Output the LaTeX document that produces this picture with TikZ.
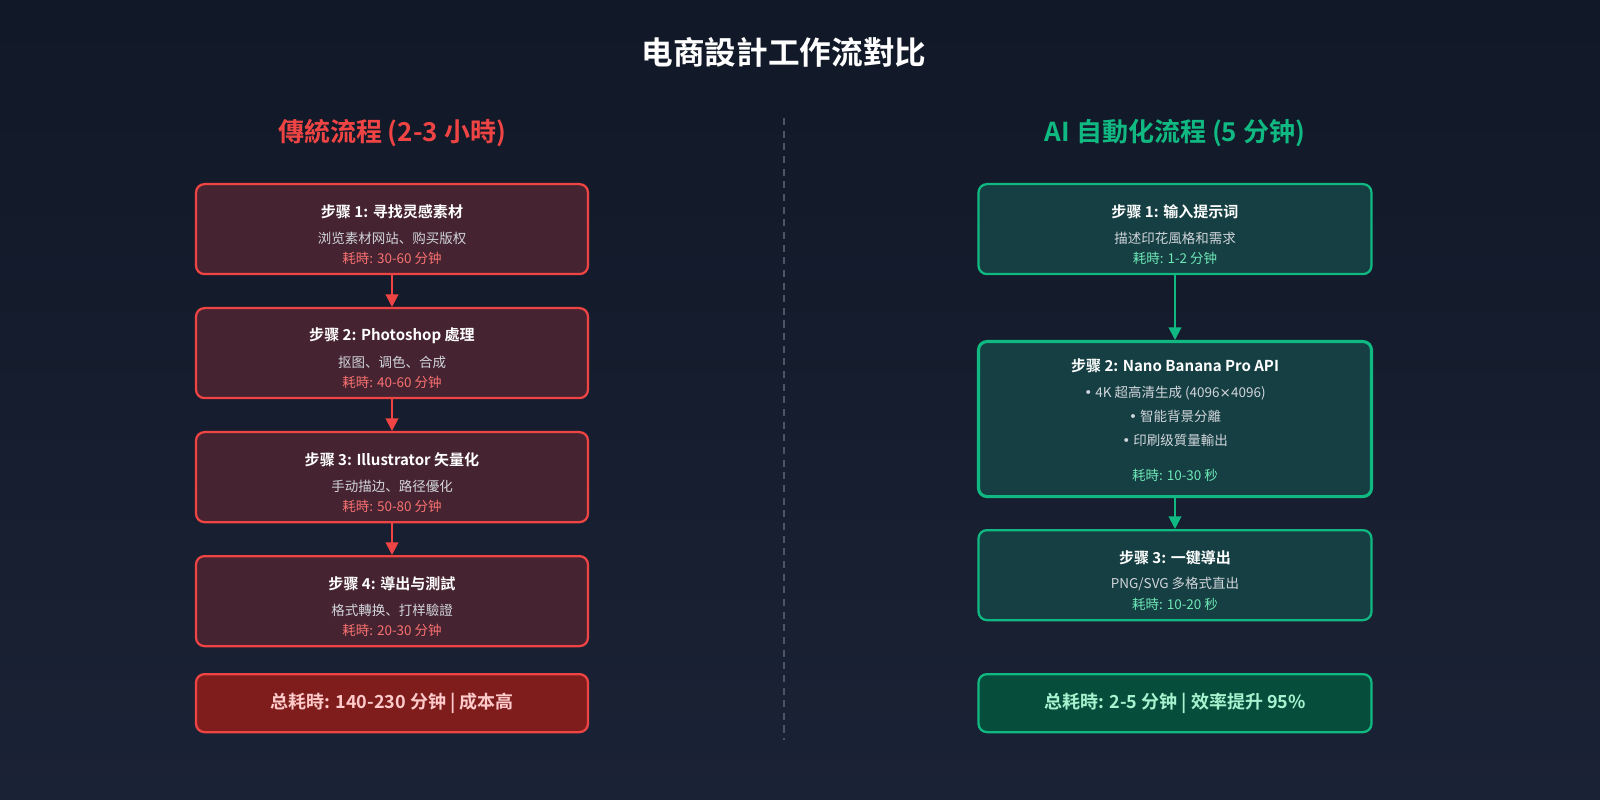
\documentclass[tikz,border=0pt]{standalone}
\usepackage{fontspec}
\setmainfont{Noto Sans CJK SC}[BoldFont={Noto Sans CJK SC Bold}]
\newfontfamily\dvs{DejaVu Sans}
\usetikzlibrary{arrows.meta}
\definecolor{bgtop}{HTML}{111827}
\definecolor{bgbot}{HTML}{1A2235}
\definecolor{red}{HTML}{EF4444}
\definecolor{redfill}{HTML}{462330}
\definecolor{redtime}{HTML}{F87171}
\definecolor{redtot}{HTML}{7F1D1D}
\definecolor{redtottxt}{HTML}{FECACA}
\definecolor{grn}{HTML}{10B981}
\definecolor{grnfill}{HTML}{153F42}
\definecolor{grntime}{HTML}{6EE7B7}
\definecolor{grntot}{HTML}{064E3B}
\definecolor{grntottxt}{HTML}{A7F3D0}
\definecolor{sub}{HTML}{D1D5DB}
\definecolor{divc}{HTML}{4B5563}
\begin{document}
\begin{tikzpicture}[x=0.025cm,y=-0.025cm,
  rbox/.style={draw=red,fill=redfill,line width=1.6pt,rounded corners=6pt,minimum width=392*0.025cm,anchor=north,inner sep=0},
  gbox/.style={draw=grn,fill=grnfill,line width=1.6pt,rounded corners=6pt,minimum width=393*0.025cm,anchor=north,inner sep=0},
  ttl/.style={text=white,font=\bfseries\fontsize{10.7}{12}\selectfont},
  txt/.style={text=sub,font=\fontsize{9.6}{11}\selectfont},
  rt/.style={text=redtime,font=\fontsize{9.6}{11}\selectfont},
  gt/.style={text=grntime,font=\fontsize{9.6}{11}\selectfont},
  rarr/.style={draw=red,line width=1.4pt,-{Triangle[length=9pt,width=9pt]}},
  garr/.style={draw=grn,line width=1.4pt,-{Triangle[length=9pt,width=9pt]}}]
\useasboundingbox (0,0) rectangle (1600,800);
\shade[top color=bgtop,bottom color=bgbot] (0,0) rectangle (1600,800);
\node[text=white,font=\bfseries\fontsize{22.5}{26}\selectfont] (title) at (784,52) {电商設計工作流對比};
\draw[divc,line width=1pt,dash pattern=on 5pt off 4pt] (784,118) coordinate (d1) -- (784,740) coordinate (d2);
\node[text=red,font=\bfseries\fontsize{18.5}{22}\selectfont] (lh) at (392,133) {傳統流程 (2-3 小時)};
\node[text=grn,font=\bfseries\fontsize{18.5}{22}\selectfont] (rh) at (1175,133) {AI 自動化流程 (5 分钟)};
% left
\node[rbox,minimum height=90*0.025cm] (l1) at (392,183) {};
\node[ttl] at (392,212) {步骤 1: 寻找灵感素材};
\node[txt] at (392,238) {浏览素材网站、购买版权};
\node[rt] at (392,258) {耗時: 30-60 分钟};
\node[rbox,minimum height=90*0.025cm] (l2) at (392,307) {};
\node[ttl] at (392,336) {步骤 2: Photoshop 處理};
\node[txt] at (392,362) {抠图、调色、合成};
\node[rt] at (392,382) {耗時: 40-60 分钟};
\node[rbox,minimum height=90*0.025cm] (l3) at (392,431) {};
\node[ttl] at (392,460) {步骤 3: Illustrator 矢量化};
\node[txt] at (392,486) {手动描边、路径優化};
\node[rt] at (392,506) {耗時: 50-80 分钟};
\node[rbox,minimum height=90*0.025cm] (l4) at (392,555) {};
\node[ttl] at (392,584) {步骤 4: 導出与測試};
\node[txt] at (392,610) {格式轉换、打样驗證};
\node[rt] at (392,630) {耗時: 20-30 分钟};
\node[rbox,fill=redtot,minimum height=58*0.025cm,text=redtottxt,font=\bfseries\fontsize{12.8}{15}\selectfont] (lt) at (392,673) {总耗時: 140-230 分钟 | 成本高};
\draw[rarr] (l1.south) -- (l2.north);
\draw[rarr] (l2.south) -- (l3.north);
\draw[rarr] (l3.south) -- (l4.north);
% right
\node[gbox,minimum height=90*0.025cm] (r1) at (1175,183) {};
\node[ttl] at (1175,212) {步骤 1: 输入提示词};
\node[txt] at (1175,238) {描述印花風格和需求};
\node[gt] at (1175,258) {耗時: 1-2 分钟};
\node[gbox,line width=2.2pt,minimum height=155*0.025cm] (r2) at (1175,340) {};
\node[ttl] at (1175,366) {步骤 2: Nano Banana Pro API};
\node[txt] at (1175,393) {{\dvs •} 4K 超高清生成 (4096{\dvs ×}4096)};
\node[txt] at (1175,416) {{\dvs •} 智能背景分離};
\node[txt] at (1175,440) {{\dvs •} 印刷级質量輸出};
\node[gt] at (1175,475) {耗時: 10-30 秒};
\node[gbox,minimum height=90*0.025cm] (r3) at (1175,529) {};
\node[ttl] at (1175,558) {步骤 3: 一键導出};
\node[txt] at (1175,584) {PNG/SVG 多格式直出};
\node[gt] at (1175,604) {耗時: 10-20 秒};
\node[gbox,fill=grntot,minimum height=58*0.025cm,text=grntottxt,font=\bfseries\fontsize{12.8}{15}\selectfont] (rt) at (1175,673) {总耗時: 2-5 分钟 | 效率提升 95\%};
\draw[garr] (r1.south) -- (r2.north);
\draw[garr] (r2.south) -- (r3.north);
\end{tikzpicture}
\end{document}
